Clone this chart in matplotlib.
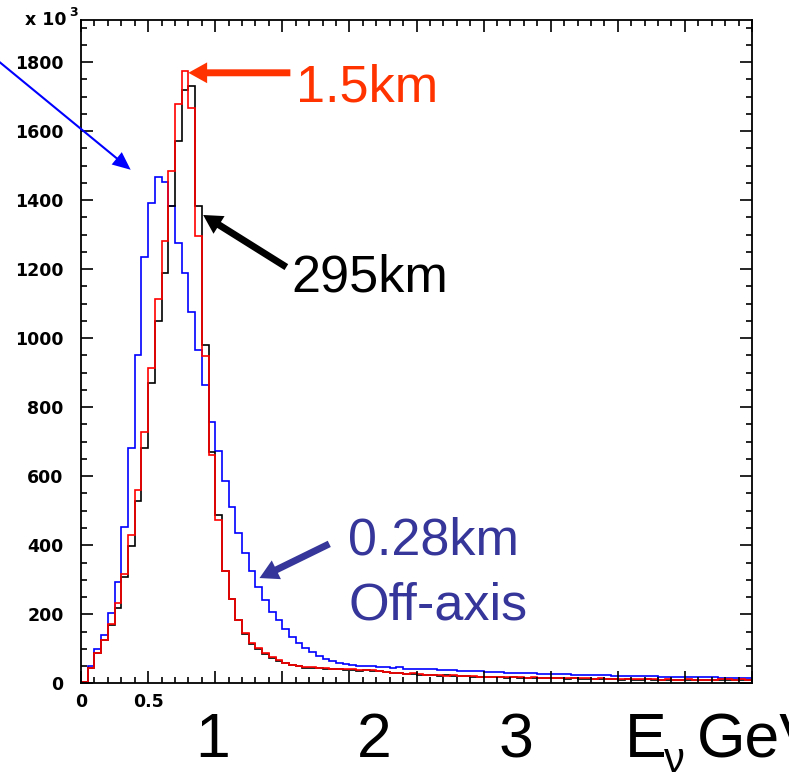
import numpy as np
import matplotlib
matplotlib.use("Agg")
import matplotlib.pyplot as plt
from matplotlib.ticker import MultipleLocator

# neutrino energy spectra, 100 bins of 0.05 GeV, counts in units of 10^3
bin_width = 0.05
n_bins = 100
edges = np.arange(n_bins + 1) * bin_width

# 1.5 km (red)
flux_1p5km = [
    4, 44, 89, 125, 171, 232, 316, 429, 560, 727,
    915, 1113, 1283, 1483, 1678, 1773, 1668, 1297, 947, 662,
    473, 325, 244, 183, 145, 116, 101, 87, 75, 68,
    60, 53, 51, 47, 46, 45, 44, 42, 41, 42,
    40, 39, 38, 39, 37, 32, 31, 30, 27, 29,
    26, 25, 24, 24, 22, 23, 21, 20, 21, 19,
    19, 18, 18, 19, 17, 17, 16, 17, 15, 16,
    15, 15, 14, 15, 14, 14, 13, 14, 13, 13,
    13, 12, 13, 12, 12, 12, 11, 12, 11, 11,
    12, 11, 11, 10, 11, 13, 12, 11, 12, 10,
]

# 295 km (black)
flux_295km = [
    4, 43, 89, 125, 170, 219, 307, 398, 529, 681,
    870, 1050, 1190, 1383, 1570, 1718, 1731, 1382, 979, 671,
    488, 325, 244, 183, 143, 114, 99, 85, 74, 66,
    58, 52, 49, 44, 43, 45, 42, 40, 41, 39,
    38, 37, 38, 36, 35, 33, 30, 29, 28, 27,
    25, 25, 23, 22, 23, 21, 20, 21, 19, 18,
    19, 17, 18, 16, 17, 16, 15, 16, 15, 14,
    15, 14, 13, 14, 13, 13, 12, 13, 12, 12,
    11, 12, 11, 11, 12, 11, 10, 11, 10, 10,
    11, 10, 10, 11, 9, 10, 10, 9, 10, 9,
]

# 0.28 km off-axis (blue)
flux_0p28km = [
    5, 49, 99, 140, 203, 293, 454, 681, 952, 1235,
    1391, 1468, 1454, 1383, 1277, 1188, 1075, 966, 865, 757,
    673, 586, 512, 435, 377, 324, 278, 240, 206, 182,
    157, 135, 118, 103, 92, 79, 70, 65, 58, 55,
    53, 51, 50, 49, 47, 46, 45, 46, 42, 42,
    41, 40, 41, 39, 38, 38, 37, 36, 35, 35,
    33, 33, 32, 31, 31, 30, 29, 29, 28, 28,
    27, 26, 26, 25, 25, 24, 24, 23, 23, 22,
    22, 21, 21, 21, 20, 20, 19, 19, 19, 18,
    18, 18, 17, 17, 17, 16, 16, 16, 16, 15,
]

y_ticks = [0, 200, 400, 600, 800, 1000, 1200, 1400, 1600, 1800]
x_ticks = [0, 0.5, 1, 1.5, 2, 2.5, 3, 3.5, 4, 4.5, 5]
x_tick_labels = ["0", "0.5", "", "", "", "", "", "", "", "", ""]

fig = plt.figure(figsize=(7.89, 7.72), dpi=100)
ax = fig.add_axes([0.1027, 0.1149, 0.8504, 0.8592])

ax.stairs(flux_0p28km, edges, color="#0000ff", lw=1.2)
ax.stairs(flux_295km, edges, color="black", lw=1.2)
ax.stairs(flux_1p5km, edges, color="#ff0000", lw=1.2)

ax.set_xlim(0, 5)
ax.set_ylim(0, 1922)

ax.set_xticks(x_ticks)
ax.set_xticklabels(x_tick_labels)
ax.xaxis.set_minor_locator(MultipleLocator(0.1))
ax.set_yticks(y_ticks)
ax.yaxis.set_minor_locator(MultipleLocator(50))

ax.tick_params(which="both", direction="in", top=True, right=True, width=1.2)
ax.tick_params(which="major", length=8.5)
ax.tick_params(which="minor", length=4.5)
ax.tick_params(axis="y", which="major", pad=12.5)
ax.tick_params(axis="x", which="major", pad=7)
for lab in ax.get_xticklabels() + ax.get_yticklabels():
    lab.set_fontfamily("DejaVu Sans")
    lab.set_fontweight("bold")
    lab.set_fontsize(12.5)
for sp in ax.spines.values():
    sp.set_linewidth(1.3)

# exponent label
fig.text(25 / 789, 1 - 25 / 772, "x 10", fontsize=12.5, fontweight="bold",
         family="DejaVu Sans", ha="left", va="baseline")
fig.text(69 / 789, 1 - 16 / 772, "3", fontsize=9, fontweight="bold",
         family="DejaVu Sans", ha="left", va="baseline")

# annotations
big = dict(family="Liberation Sans", fontsize=37.5, va="baseline", ha="left")
red_col = "#ff3300"
navy = "#35359a"

def arrow(tip, tail, color, tw=0.5, hw=1.5, hl=1.35):
    ax.annotate("", xy=tip, xytext=tail, annotation_clip=False,
                arrowprops=dict(arrowstyle=f"simple,head_length={hl},head_width={hw},tail_width={tw}",
                                color=color, shrinkA=0, shrinkB=0, mutation_scale=10, lw=0))

arrow((0.80, 1769), (1.56, 1769), red_col)
ax.text(1.605, 1685, "1.5km", color=red_col, **big)

arrow((0.91, 1357), (1.53, 1206), "black")
ax.text(1.567, 1134, "295km", color="black", **big)

arrow((1.33, 305), (1.85, 404), navy)
ax.text(1.99, 372, "0.28km", color=navy, **big)
ax.text(1.99, 184, "Off-axis", color=navy, **big)

arrow((0.37, 1488), (-0.61, 1801), "#0000ff", tw=0.15, hw=1.15, hl=1.3)

# hand-made energy labels below the axis
for xpix, s in [(213, "1"), (374, "2"), (516, "3")]:
    fig.text(xpix / 789, 1 - 757 / 772, s, family="Liberation Sans", fontsize=45,
             ha="center", va="baseline")
fig.text(625 / 789, 1 - 757 / 772, "E", family="Liberation Sans", fontsize=45,
         ha="left", va="baseline")
fig.text(664 / 789, 1 - 772 / 772, "ν", family="Liberation Sans", fontsize=30,
         ha="left", va="baseline")
fig.text(697 / 789, 1 - 757 / 772, "GeV", family="Liberation Sans", fontsize=45,
         ha="left", va="baseline")

fig.savefig("out.png", dpi=100)
